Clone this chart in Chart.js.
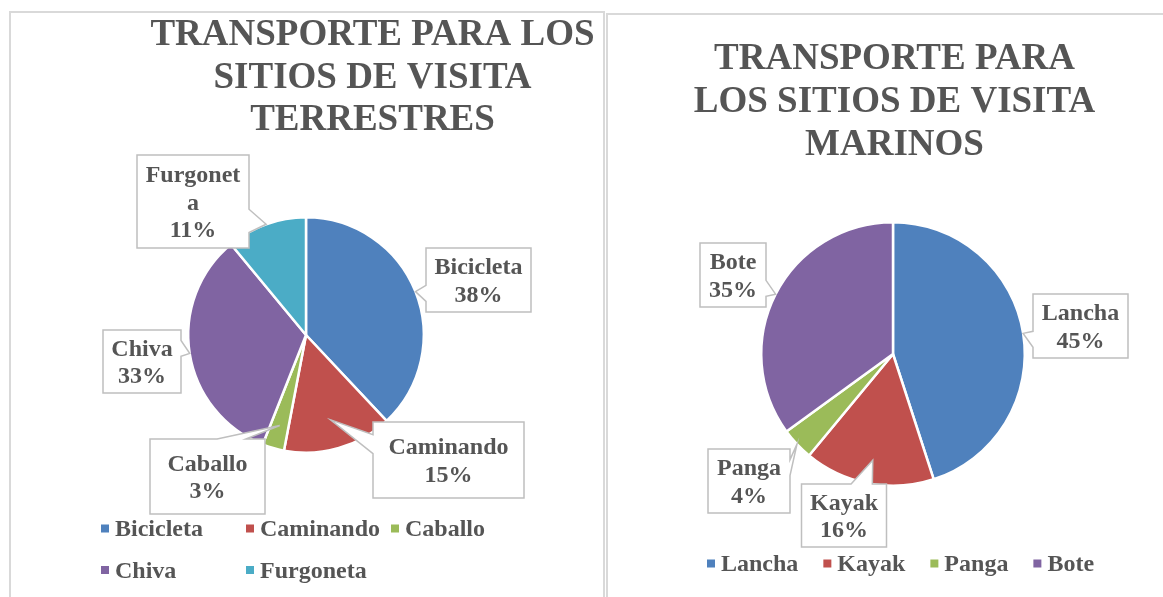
<!DOCTYPE html>
<html>
<head>
<meta charset="utf-8">
<script src="https://cdn.jsdelivr.net/npm/chart.js@4.4.1/dist/chart.umd.min.js"></script>
<style>
  body { margin: 0; background: #fff; width: 1163px; height: 597px; overflow: hidden; position: relative; }
  .panel { position: absolute; border: 2px solid #d9d9d9; box-sizing: border-box; }
  #p1 { left: 9px; top: 11px; width: 596px; height: 620px; }
  #p2 { left: 606px; top: 13px; width: 580px; height: 620px; }
  canvas { position: absolute; top: 0; }
  #c1 { left: 0; }
  #c2 { left: 608px; }
</style>
</head>
<body>
<div class="panel" id="p1"></div>
<div class="panel" id="p2"></div>
<canvas id="c1" width="605" height="597"></canvas>
<canvas id="c2" width="555" height="597"></canvas>
<script>
// ── DATA ────────────────────────────────────────────────────────────────────────

const terrTitle  = ['TRANSPORTE PARA LOS', 'SITIOS DE VISITA', 'TERRESTRES'];
const terrLabels = ['Bicicleta', 'Caminando', 'Caballo', 'Chiva', 'Furgoneta'];
const terrValues = [38, 15, 3, 33, 11];

const marTitle  = ['TRANSPORTE PARA', 'LOS SITIOS DE VISITA', 'MARINOS'];
const marLabels = ['Lancha', 'Kayak', 'Panga', 'Bote'];
const marValues = [45, 16, 4, 35];

// ── STYLE ───────────────────────────────────────────────────────────────────────

const COLORS = ['#4F81BD', '#C0504D', '#9BBB59', '#8064A2', '#4BACC6'];
const TXT = '#555555';
const SERIF = '"Liberation Serif", "Times New Roman", serif';

// callout boxes: offset of box centre from pie centre, box size, where the wedge tip sits (x radius)
const terrCallouts = [
  { dx: 172.5, dy: -55,   w: 105, h: 64, tip: 1 },
  { dx: 142.5, dy: 125,   w: 151, h: 76, tip: 0.75 },
  { dx: -98.5, dy: 141.5, w: 115, h: 75, tip: 0.8 },
  { dx: -164,  dy: 26.5,  w: 78,  h: 63, tip: 1 },
  { dx: -113,  dy: -133.5, w: 112, h: 93, tip: 1, wrap: 100 }
];
const marCallouts = [
  { dx: 187.5, dy: -28,   w: 95, h: 64, tip: 1 },
  { dx: -49,   dy: 161.5, w: 85, h: 63, tip: 0.82 },
  { dx: -144,  dy: 127,   w: 82, h: 64, tip: 1 },
  { dx: -160,  dy: -79,   w: 66, h: 64, tip: 1 }
];

function wrapChars(ctx, text, maxW) {
  if (!maxW || ctx.measureText(text).width <= maxW) return [text];
  const lines = [];
  let cur = '';
  for (const ch of text) {
    if (cur && ctx.measureText(cur + ch).width > maxW) { lines.push(cur); cur = ch; }
    else cur += ch;
  }
  if (cur) lines.push(cur);
  return lines;
}

// box outline with an Excel style wedge pointing at the slice
function calloutPath(ctx, L, T, R, B, tip) {
  const w = R - L, h = B - T, cx = (L + R) / 2, cy = (T + B) / 2;
  const horiz = Math.abs(tip.x - cx) / w > Math.abs(tip.y - cy) / h;
  const fx = tip.x >= cx ? [7/12, 10/12] : [2/12, 5/12];
  const fy = tip.y >= cy ? [7/12, 10/12] : [2/12, 5/12];
  ctx.beginPath();
  ctx.moveTo(L, T);
  if (!horiz && tip.y < cy) { ctx.lineTo(L + w*fx[0], T); ctx.lineTo(tip.x, tip.y); ctx.lineTo(L + w*fx[1], T); }
  ctx.lineTo(R, T);
  if (horiz && tip.x > cx) { ctx.lineTo(R, T + h*fy[0]); ctx.lineTo(tip.x, tip.y); ctx.lineTo(R, T + h*fy[1]); }
  ctx.lineTo(R, B);
  if (!horiz && tip.y >= cy) { ctx.lineTo(L + w*fx[1], B); ctx.lineTo(tip.x, tip.y); ctx.lineTo(L + w*fx[0], B); }
  ctx.lineTo(L, B);
  if (horiz && tip.x <= cx) { ctx.lineTo(L, T + h*fy[1]); ctx.lineTo(tip.x, tip.y); ctx.lineTo(L, T + h*fy[0]); }
  ctx.closePath();
}

const excelDeco = {
  id: 'excelDeco',
  afterDraw(chart, args, o) {
    const ctx = chart.ctx;
    const ds = chart.data.datasets[0];
    const arcs = chart.getDatasetMeta(0).data;
    const total = ds.data.reduce((a, b) => a + b, 0);
    ctx.save();

    // title
    ctx.fillStyle = TXT;
    ctx.font = 'bold 37px ' + SERIF;
    ctx.textAlign = 'center';
    ctx.textBaseline = 'alphabetic';
    o.title.forEach((t, i) => ctx.fillText(t, o.titleX, o.titleY + i * o.titleLH));

    // data label callouts
    ctx.font = 'bold 24px ' + SERIF;
    arcs.forEach((arc, i) => {
      const c = o.callouts[i];
      const p = arc.getProps(['x', 'y', 'startAngle', 'endAngle', 'outerRadius'], true);
      const mid = (p.startAngle + p.endAngle) / 2;
      const tip = { x: p.x + Math.cos(mid) * p.outerRadius * c.tip, y: p.y + Math.sin(mid) * p.outerRadius * c.tip };
      const bx = p.x + c.dx, by = p.y + c.dy;
      calloutPath(ctx, bx - c.w/2, by - c.h/2, bx + c.w/2, by + c.h/2, tip);
      ctx.fillStyle = '#fff';
      ctx.fill();
      ctx.strokeStyle = '#bfbfbf';
      ctx.lineWidth = 1.5;
      ctx.stroke();

      const pct = Math.round(ds.data[i] / total * 100) + '%';
      const lines = [...wrapChars(ctx, chart.data.labels[i], c.wrap), pct];
      const lh = 27.5;
      ctx.fillStyle = TXT;
      ctx.textAlign = 'center';
      ctx.textBaseline = 'middle';
      lines.forEach((ln, k) => ctx.fillText(ln, bx, by + 2 + (k - (lines.length - 1) / 2) * lh));
    });

    // legend
    const lg = o.legend;
    ctx.textAlign = 'left';
    ctx.textBaseline = 'middle';
    let x = lg.x0, y = lg.y0;
    chart.data.labels.forEach((lab, i) => {
      if (lg.cols) {
        x = lg.x0 + (i % lg.cols) * lg.colW;
        y = lg.y0 + Math.floor(i / lg.cols) * lg.rowH;
      }
      ctx.fillStyle = ds.backgroundColor[i];
      ctx.fillRect(x, y - 4, 8, 8);
      ctx.fillStyle = TXT;
      ctx.fillText(lab, x + 14, y + 1.5);
      if (!lg.cols) x += 14 + ctx.measureText(lab).width + lg.gap;
    });
    ctx.restore();
  }
};

function makePie(id, labels, values, padding, deco) {
  return new Chart(document.getElementById(id), {
    type: 'pie',
    data: {
      labels: labels,
      datasets: [{
        data: values,
        backgroundColor: COLORS.slice(0, values.length),
        borderColor: '#ffffff',
        borderWidth: 2.5
      }]
    },
    options: {
      responsive: false,
      animation: false,
      layout: { padding: padding },
      plugins: {
        legend: { display: false },
        title: { display: false },
        tooltip: { enabled: false },
        excelDeco: deco
      }
    },
    plugins: [excelDeco]
  });
}

makePie('c1', terrLabels, terrValues,
  { left: 187, top: 216, right: 180, bottom: 143 },
  {
    title: terrTitle, titleX: 372.5, titleY: 45, titleLH: 42.5,
    callouts: terrCallouts,
    legend: { x0: 101, y0: 528.5, cols: 3, colW: 145, rowH: 41.5 }
  });

makePie('c2', marLabels, marValues,
  { left: 152, top: 221, right: 137, bottom: 110 },
  {
    title: marTitle, titleX: 286.5, titleY: 69, titleLH: 43,
    callouts: marCallouts,
    legend: { x0: 99, y0: 563.5, gap: 25 }
  });
</script>
</body>
</html>
